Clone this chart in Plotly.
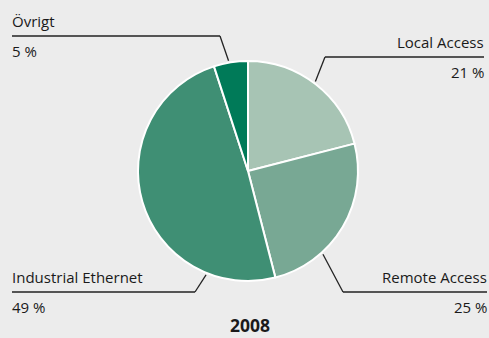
import math
import plotly.graph_objects as go

# Market share split, 2008
segments = ["Local Access", "Remote Access", "Industrial Ethernet", "Övrigt"]
shares = [21, 25, 49, 5]
slice_colors = ["#a7c4b4", "#78a894", "#3f8f74", "#007a58"]
title_text = "2008"

W, H = 489, 338
CX, CY, R = 248, 171, 110  # pie centre and radius in pixels

# Label layout: (side, rule row y, rule start x, rule end x, elbow x, angle on rim in degrees clockwise from top)
label_layout = {
    "Local Access":        ("right", 57, 325, 484, 325, 37),
    "Remote Access":       ("right", 292, 343, 487, 343, 138),
    "Industrial Ethernet": ("left", 292, 12, 195, 195, 202),
    "Övrigt":              ("left", 36, 12, 220, 220, 350),
}

FONT_FAMILY = "Open Sans, DejaVu Sans, sans-serif"


def px(x):
    return x / W


def py(y):
    return 1 - y / H


fig = go.Figure(
    go.Pie(
        labels=segments,
        values=shares,
        sort=False,
        direction="clockwise",
        rotation=0,
        marker=dict(colors=slice_colors, line=dict(color="#ffffff", width=2)),
        textinfo="none",
        hoverinfo="label+percent",
        showlegend=False,
        domain=dict(x=[px(CX - R), px(CX + R)], y=[py(CY + R), py(CY - R)]),
    )
)

shapes = []
annotations = []
font = dict(family=FONT_FAMILY, size=15, color="#1a1a1a")
for name, share in zip(segments, shares):
    side, ly, x0, x1, ex, ang = label_layout[name]
    # horizontal rule between name and value
    shapes.append(dict(type="line", xref="paper", yref="paper",
                       x0=px(x0), x1=px(x1), y0=py(ly), y1=py(ly),
                       line=dict(color="#222222", width=1.3)))
    # leader from elbow to just outside the rim
    a = math.radians(ang)
    rx = CX + (R + 2) * math.sin(a)
    ry = CY - (R + 2) * math.cos(a)
    shapes.append(dict(type="line", xref="paper", yref="paper",
                       x0=px(ex), x1=px(rx), y0=py(ly), y1=py(ry),
                       line=dict(color="#222222", width=1.3)))
    tx = x0 if side == "left" else x1
    anchor = "left" if side == "left" else "right"
    shift = -2 if side == "left" else 2
    annotations.append(dict(text=name, x=px(tx + shift), y=py(ly - 15),
                            xref="paper", yref="paper",
                            xanchor=anchor, yanchor="middle", showarrow=False, font=font))
    annotations.append(dict(text=f"{share} %", x=px(tx + shift), y=py(ly + 15),
                            xref="paper", yref="paper",
                            xanchor=anchor, yanchor="middle", showarrow=False, font=font))

annotations.append(dict(text=f"<b>{title_text}</b>", x=px(CX + 2), y=0,
                        xref="paper", yref="paper",
                        xanchor="center", yanchor="bottom", showarrow=False, borderpad=0,
                        font=dict(family=FONT_FAMILY, size=17.5, color="#1a1a1a")))

fig.update_layout(
    width=W, height=H,
    margin=dict(l=0, r=0, t=0, b=0),
    paper_bgcolor="#ececec",
    plot_bgcolor="#ececec",
    shapes=shapes,
    annotations=annotations,
)

fig.write_html("out.html")
